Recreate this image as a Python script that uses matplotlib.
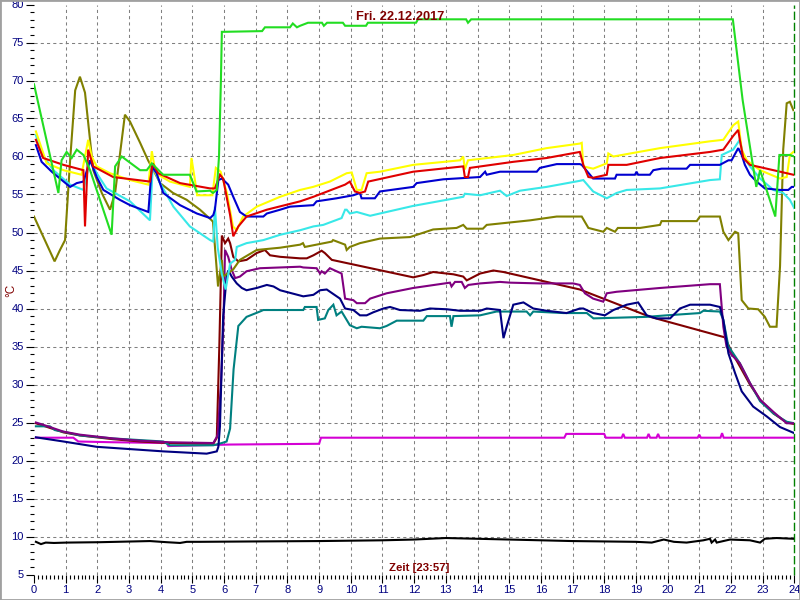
import matplotlib
matplotlib.use('Agg')
import matplotlib.pyplot as plt
from matplotlib.ticker import MultipleLocator
from matplotlib.patches import Rectangle

# ---------------- data (hours, °C) ----------------
green_t = [0, 0.77, 0.87, 1.03, 1.19, 1.35, 1.56, 1.77, 2.45, 2.56, 2.77, 2.93, 3.35, 3.56, 3.72, 3.98, 4.08, 4.92,
           5.13, 5.56, 5.65, 5.77, 5.84, 5.9, 5.93, 7.2, 7.29, 8.08, 8.17, 8.3, 8.4, 8.65, 9.09, 9.15, 9.25, 9.75,
           9.82, 10.48, 10.54, 12.06, 12.12, 13.64, 13.7, 13.8, 22.06, 22.37, 22.8, 22.92, 23.4, 23.53, 23.86, 24.0]
green_v = [69.5, 55.2, 59.5, 60.6, 59.8, 60.9, 60.2, 58.2, 49.7, 58.7, 60.0, 59.5, 58.2, 58.2, 59.1, 58.0, 57.6, 57.6,
           55.4, 55.5, 55.2, 55.6, 60.0, 70.0, 76.4, 76.5, 77.0, 77.0, 77.5, 77.0, 77.2, 77.6, 77.6, 77.2, 77.6, 77.6,
           77.2, 77.2, 77.6, 77.6, 78.05, 78.05, 77.6, 78.05, 78.05, 67.4, 56.0, 58.2, 52.1, 60.2, 60.2, 60.0]

olive_t = [0, 0.65, 0.82, 0.98, 1.14, 1.3, 1.45, 1.61, 1.87, 2.14, 2.4, 2.56, 2.87, 3.03, 3.35, 3.6, 3.82, 3.98, 4.39,
           4.82, 5.24, 5.61, 5.65, 5.81, 5.93, 5.97, 6.28, 6.5, 7.03, 7.77, 8.4, 8.49, 8.55, 9.4, 9.44, 9.82, 9.87,
           9.97, 10.29, 10.92, 11.87, 12.6, 13.34, 13.55, 13.66, 14.17, 14.29, 15.66, 16.5, 17.29, 17.5, 17.97,
           18.08, 18.34, 18.43, 19.13, 19.76, 19.81, 20.92, 21.02, 21.65, 21.76, 21.92, 22.13, 22.23, 22.34, 22.55,
           22.86, 23.07, 23.23, 23.44, 23.55, 23.65, 23.76, 23.86, 23.97]
olive_v = [52.1, 46.2, 47.7, 49.0, 59.5, 68.7, 70.5, 68.4, 58.2, 55.2, 53.0, 55.2, 65.5, 64.6, 61.8, 59.5, 57.8, 56.5,
           55.2, 54.3, 53.0, 51.6, 51.4, 42.9, 46.4, 44.2, 45.1, 46.4, 47.7, 48.0, 48.4, 48.6, 48.1, 48.8, 49.0,
           48.4, 47.7, 48.1, 48.6, 49.2, 49.4, 50.4, 50.6, 51.0, 50.5, 50.5, 51.0, 51.6, 52.1, 52.1, 50.6, 50.1,
           50.6, 50.1, 50.6, 50.6, 51.0, 51.5, 51.5, 52.1, 52.1, 50.1, 49.0, 50.1, 49.9, 41.1, 40.0, 39.9, 38.9,
           37.6, 37.6, 45.6, 60.9, 67.0, 67.2, 66.1]

yellow_t = [0.06, 0.4, 0.93, 1.5, 1.71, 1.82, 1.98, 2.4, 3.03, 3.61, 3.72, 3.84, 4.29, 4.92, 4.97, 5.08, 5.15, 5.63,
            5.74, 5.89, 6.09, 6.28, 6.4, 6.6, 7.03, 7.77, 8.4, 8.81, 9.34, 9.87, 10.03, 10.19, 10.34, 10.5, 10.92,
            11.97, 13.45, 13.55, 13.6, 13.7, 15.13, 16.18, 17.23, 17.29, 17.34, 17.65, 18.08, 18.13, 18.29, 19.76,
            21.34, 21.76, 22.07, 22.23, 22.34, 22.5, 22.92, 23.55, 23.76, 23.86, 23.97]
yellow_v = [63.3, 59.1, 58.2, 57.6, 62.2, 60.0, 58.7, 57.8, 56.9, 56.3, 60.7, 57.8, 56.7, 56.0, 59.8, 56.9, 54.9, 54.9,
            58.5, 58.0, 55.2, 50.8, 50.3, 52.1, 53.4, 54.7, 55.6, 56.0, 56.7, 57.8, 57.9, 55.6, 55.6, 57.8, 58.0,
            58.9, 59.5, 60.0, 58.3, 59.5, 60.2, 61.1, 61.7, 61.8, 58.7, 58.4, 59.1, 60.4, 60.0, 61.1,
            62.0, 62.2, 64.1, 64.6, 60.9, 59.5, 58.2, 57.1, 57.3, 60.2, 60.6]

red_t = [0.06, 0.29, 0.93, 1.56, 1.61, 1.71, 1.87, 2.5, 3.66, 3.75, 3.92, 4.61, 5.56, 5.71, 5.87, 5.97, 6.19, 6.29,
         6.45, 6.71, 7.35, 8.4, 8.82, 9.82, 9.97, 10.13, 10.29, 10.45, 10.55, 11.97, 13.55, 13.6, 13.7, 13.76,
         15.13, 16.18, 17.23, 17.34, 17.5, 17.65, 18.08, 18.13, 18.71, 19.76, 21.34, 21.76, 22.07, 22.23, 22.28,
         22.39, 22.6, 23.13, 23.97]
red_v = [62.2, 59.8, 58.9, 58.2, 50.8, 60.9, 58.7, 57.3, 56.7, 59.1, 57.8, 56.5, 55.8, 55.8, 57.6, 57.1, 52.3, 49.5,
         50.8, 52.1, 53.0, 54.1, 54.7, 56.3, 56.7, 55.4, 55.2, 55.4, 56.7, 58.0, 58.7, 57.3, 57.3, 58.5,
         59.3, 59.8, 60.6, 58.9, 57.3, 57.2, 57.6, 58.9, 58.9, 59.8, 60.6, 60.9, 62.7, 63.5, 62.2,
         59.8, 58.9, 58.4, 57.6]

blue_t = [0.06, 0.24, 0.56, 0.82, 1.14, 1.35, 1.56, 1.77, 1.98, 2.19, 2.71, 3.03, 3.61, 3.72, 3.87, 4.08, 4.61, 5.14,
          5.56, 5.66, 5.71, 5.82, 5.93, 6.13, 6.29, 6.5, 6.71, 7.24, 7.35, 7.77, 8.08, 8.82, 8.92, 9.55, 10.08,
          10.29, 10.34, 10.76, 10.92, 11.97, 12.08, 12.92, 14.08, 14.24, 14.29, 14.71, 15.87, 15.97, 16.5, 17.23,
          17.29, 17.65, 18.34, 18.39, 18.97, 19.02, 19.07, 19.44, 19.55, 19.81, 20.6, 20.71, 21.65, 21.92, 22.02,
          22.23, 22.34, 22.44, 22.6, 22.81, 23.07, 23.55, 23.81, 23.92, 24.0]
blue_v = [61.5, 59.3, 58.0, 57.1, 56.0, 56.5, 56.7, 59.5, 57.3, 55.6, 54.3, 53.6, 52.7, 58.7, 57.8, 55.2, 53.6, 52.5,
          51.9, 52.3, 53.0, 56.9, 57.1, 56.3, 54.7, 52.7, 52.1, 52.1, 52.5, 53.0, 53.4, 53.6, 54.1, 54.5, 54.9,
          55.2, 54.5, 54.5, 55.4, 56.0, 56.5, 57.0, 57.3, 58.0, 57.6, 58.0, 58.0, 58.5, 59.0, 59.0,
          58.9, 57.1, 57.1, 57.6, 57.6, 58.0, 57.6, 57.6, 58.2, 58.4, 58.4, 58.9, 58.9, 59.5, 59.5,
          61.1, 60.2, 58.9, 57.6, 56.7, 55.8, 55.6, 55.6, 56.0, 56.0]

cyan_t = [0.06, 0.24, 0.61, 1.14, 1.56, 1.77, 1.98, 2.29, 3.03, 3.66, 3.75, 3.98, 4.4, 4.92, 5.56, 5.66, 5.71, 5.8,
          5.93, 6.05, 6.19, 6.35, 6.4, 6.71, 7.24, 7.77, 8.4, 8.82, 9.13, 9.71, 9.82, 9.87, 9.97, 10.19, 10.61,
          10.92, 11.97, 13.55, 13.6, 14.08, 14.71, 14.92, 15.34, 16.18, 17.23, 17.34, 17.65, 18.08, 18.39, 18.71,
          19.76, 21.34, 21.65, 21.71, 22.07, 22.28, 22.39, 22.6, 22.92, 23.34, 23.65, 23.86, 24.0]
cyan_v = [62.8, 60.4, 58.2, 56.3, 55.6, 59.5, 57.8, 55.8, 54.1, 51.6, 58.7, 56.5, 53.4, 50.8, 49.0, 48.8, 53.4, 48.0,
          44.5, 42.5, 45.9, 46.4, 48.1, 48.6, 49.0, 49.7, 50.3, 50.8, 51.0, 51.9, 53.0, 53.0, 52.5, 52.7, 52.2,
          52.5, 53.5, 54.7, 55.1, 54.9, 55.5, 54.8, 55.5, 56.0, 56.8, 56.9, 55.4, 54.5, 55.2, 55.6,
          55.8, 56.9, 57.0, 60.2, 60.9, 62.2, 60.0, 58.7, 57.1, 55.6, 55.2, 54.3, 53.2]

maroon_t = [0.06, 0.93, 1.45, 2.5, 3.35, 4.29, 5.66, 5.77, 5.85, 5.93, 6.03, 6.13, 6.19, 6.29, 6.45, 6.71, 7.03,
            7.29, 7.45, 7.77, 8.4, 8.61, 8.82, 9.08, 9.18, 9.4, 11.97, 12.29, 12.6, 13.24, 13.55, 13.66, 14.08,
            14.5, 14.82, 17.23, 19.45, 21.81, 22.02, 22.28, 22.6, 22.92, 23.34, 23.76, 24.0]
maroon_v = [24.9, 23.7, 23.3, 22.8, 22.5, 22.3, 22.2, 23.0, 35.0, 49.6, 48.6, 49.2, 48.6, 46.8, 46.2, 46.4, 47.3,
            47.7, 47.0, 46.8, 46.6, 46.6, 47.0, 47.6, 47.3, 46.4, 44.1, 44.4, 44.8, 44.5, 44.2, 43.7, 44.6,
            45.0, 44.8, 42.5, 38.9, 36.2, 34.3, 32.4, 30.0, 28.0, 26.2, 25.0, 24.8]

purple_t = [0.06, 0.29, 0.93, 1.45, 2.5, 3.35, 4.29, 5.66, 5.77, 5.8, 5.9, 5.98, 6.03, 6.13, 6.24, 6.35, 6.5, 6.71,
            7.13, 7.77, 8.4, 8.5, 8.92, 9.03, 9.08, 9.18, 9.34, 9.55, 9.71, 9.82, 10.08, 10.19, 10.45, 10.61, 11.13,
            11.97, 13.13, 13.18, 13.29, 13.5, 13.6, 13.71, 14.08, 14.71, 15.03, 15.97, 17.02, 17.23, 17.39, 17.65,
            17.97, 18.08, 18.39, 19.76, 21.34, 21.65, 21.76, 21.86, 22.02, 22.28, 22.6, 22.92, 23.34, 23.76, 24.0]
purple_v = [25.0, 24.7, 23.8, 23.4, 22.9, 22.6, 22.4, 22.3, 23.1, 23.5, 30.0, 38.0, 47.7, 46.8, 45.1, 44.0, 44.2, 44.9,
            45.3, 45.4, 45.5, 45.4, 45.3, 44.6, 44.9, 44.6, 45.3, 44.9, 44.6, 41.3, 41.1, 40.7, 40.7, 41.3, 42.0,
            42.7, 43.4, 42.9, 43.5, 43.5, 42.7, 43.1, 43.3, 43.5, 43.4, 43.3, 43.3, 43.1, 42.0, 41.3,
            40.9, 42.0, 42.2, 42.7, 43.2, 43.2, 37.6, 35.0, 33.9, 32.8, 30.2, 28.0, 26.4, 24.9, 24.9]

navy_t = [0.06, 0.93, 1.98, 3.03, 4.08, 5.45, 5.77, 5.82, 5.87, 5.97, 6.08, 6.13, 6.19, 6.24, 6.4, 6.56, 6.71, 7.03,
          7.35, 7.56, 7.77, 8.5, 8.82, 9.03, 9.24, 9.66, 9.82, 10.08, 10.29, 10.5, 10.71, 11.03, 11.24, 11.55,
          12.18, 12.5, 13.03, 13.45, 14.08, 14.29, 14.71, 14.82, 14.92, 15.13, 15.45, 15.76, 16.18, 16.81, 17.23,
          17.34, 17.65, 18.02, 18.29, 18.71, 19.07, 19.34, 19.65, 20.08, 20.39, 20.71, 21.34, 21.65, 21.76,
          21.92, 22.13, 22.34, 22.7, 23.13, 23.55, 24.0]
navy_v = [23.05, 22.5, 21.8, 21.5, 21.2, 20.9, 21.2, 21.8, 24.5, 38.9, 44.2, 45.0, 44.6, 44.2, 43.3, 42.7, 42.4, 42.7,
          43.1, 42.9, 42.4, 41.6, 41.8, 42.4, 42.5, 41.3, 40.0, 39.8, 39.1, 39.1, 39.5, 40.0, 40.2, 39.8,
          39.7, 40.0, 39.9, 39.7, 39.7, 40.0, 39.8, 36.1, 37.6, 40.5, 40.8, 40.0, 39.7, 39.4, 40.0,
          40.0, 39.4, 39.1, 39.8, 40.5, 40.8, 39.1, 38.7, 38.7, 40.0, 40.5, 40.5, 40.2, 38.5,
          34.1, 31.5, 29.1, 27.1, 25.8, 24.4, 23.6]

teal_t = [0.06, 0.5, 0.66, 1.03, 1.45, 2.5, 4.08, 4.29, 5.66, 5.93, 6.08, 6.19, 6.3, 6.45, 6.71, 7.13, 7.24, 8.5,
          8.55, 8.92, 8.97, 9.18, 9.29, 9.45, 9.55, 9.71, 9.97, 10.19, 10.34, 10.92, 11.13, 11.45, 12.29, 12.4,
          13.13, 13.18, 13.24, 14.08, 14.6, 15.55, 15.66, 15.76, 16.71, 17.45, 17.66, 19.34, 19.97, 21.02, 21.13,
          21.65, 21.76, 21.92, 22.07, 22.28, 22.6, 22.92, 23.34, 23.76, 24.0]
teal_v = [24.5, 24.5, 24.0, 23.7, 23.3, 22.9, 22.5, 22.0, 22.0, 22.3, 22.5, 24.2, 32.0, 37.7, 38.9, 39.6, 39.8, 39.8,
          40.2, 40.2, 38.5, 38.7, 39.8, 40.5, 39.1, 39.6, 37.8, 37.4, 37.6, 37.4, 37.7, 38.4, 38.4, 39.0,
          39.0, 37.6, 39.0, 39.1, 39.6, 39.6, 39.1, 39.6, 39.4, 39.4, 38.7, 38.9, 39.1, 39.4, 39.7,
          39.6, 38.5, 35.0, 34.1, 32.8, 30.2, 27.8, 26.2, 25.1, 24.9]

magenta_t = [0.06, 1.24, 1.4, 2.5, 4.19, 4.24, 6.19, 9.0, 9.06, 16.74, 16.8, 18.0, 18.05, 18.55, 18.6, 18.65, 19.35,
             19.4, 19.45, 19.65, 19.7, 19.75, 20.95, 21.0, 21.05, 21.67, 21.72, 21.77, 24.0]
magenta_v = [23.0, 23.0, 22.5, 22.4, 22.3, 21.9, 22.1, 22.2, 23.0, 23.0, 23.5, 23.5, 23.0, 23.0, 23.5, 23.0, 23.0,
             23.5, 23.0, 23.0, 23.5, 23.0, 23.0, 23.4, 23.0, 23.0, 23.6, 23.0, 23.0]

black_t = [0.06, 0.22, 0.37, 0.63, 1.03, 2.08, 3.66, 4.19, 4.61, 4.82, 5.24, 7.0, 9.0, 11.0, 12.0, 13.0, 14.0, 15.0,
           16.0, 17.0, 18.0, 19.0, 19.5, 19.88, 20.2, 20.6, 21.13, 21.34, 21.39, 21.5, 21.55, 21.97, 22.6, 22.92,
           23.07, 23.44, 23.97]
black_v = [9.3, 9.0, 9.2, 9.15, 9.2, 9.25, 9.4, 9.25, 9.15, 9.3, 9.3, 9.35, 9.4, 9.5, 9.6, 9.8, 9.7, 9.6,
           9.5, 9.4, 9.35, 9.3, 9.2, 9.6, 9.3, 9.2, 9.5, 9.7, 9.2, 9.6, 9.2, 9.6, 9.5, 9.2,
           9.7, 9.8, 9.7]

title_text = 'Fri. 22.12.2017'
xlabel_text = 'Zeit [23:57]'
ylabel_text = '°C'

# ---------------- figure ----------------
fig = plt.figure(figsize=(8, 6), dpi=100)
fig.patch.set_facecolor('white')
ax = fig.add_axes([34 / 800, 1 - 574.5 / 600, (794.3 - 34) / 800, (574.5 - 4.5) / 600])
ax.set_facecolor('white')
ax.set_xlim(0, 24)
ax.set_ylim(5, 80)
for s in ax.spines.values():
    s.set_visible(False)

ax.set_xticks(range(0, 25))
ax.xaxis.set_minor_locator(MultipleLocator(0.125))
ax.set_yticks(range(5, 81, 5))
ax.yaxis.set_minor_locator(MultipleLocator(1))
ax.tick_params(axis='both', which='major', length=6, width=0.8, color='black',
               labelsize=8, labelcolor='#000080', pad=1.5)
ax.tick_params(axis='both', which='minor', length=3, width=0.8, color='black')
for lab in ax.get_xticklabels() + ax.get_yticklabels():
    lab.set_family('Liberation Sans')

grid_kw = dict(color='#808080', lw=0.75, ls=(0, (3, 3)), zorder=0.5)
for xv in range(1, 24):
    ax.axvline(xv, **grid_kw)
for yv in range(10, 80, 5):
    ax.axhline(yv, **grid_kw)
ax.axvline(24, color='#008000', lw=1.0, ls=(0, (6, 2)), zorder=0.6, clip_on=False)

lw = 1.5
series = [
    (black_t, black_v, '#000000'),
    (magenta_t, magenta_v, '#D400D4'),
    (maroon_t, maroon_v, '#800000'),
    (teal_t, teal_v, '#008080'),
    (purple_t, purple_v, '#800080'),
    (navy_t, navy_v, '#000080'),
    (olive_t, olive_v, '#808000'),
    (cyan_t, cyan_v, '#38E8E8'),
    (yellow_t, yellow_v, '#FFFF00'),
    (blue_t, blue_v, '#0000D0'),
    (red_t, red_v, '#E00000'),
    (green_t, green_v, '#22DD22'),
]
for i, (t, v, c) in enumerate(series):
    ax.plot(t, v, color=c, lw=lw, zorder=2 + i * 0.1, solid_joinstyle='miter')

fig.text(400 / 800, 1 - 17 / 600, title_text, ha='center', va='center', color='#800000',
         fontweight='bold', fontsize=9.3, family='Liberation Sans', zorder=10)
fig.text(419 / 800, 1 - 568 / 600, xlabel_text, ha='center', va='center', color='#800000',
         fontweight='bold', fontsize=8.2, family='Liberation Sans', zorder=10)
fig.text(11 / 800, 1 - 290 / 600, ylabel_text, ha='center', va='center', color='#800000',
         fontsize=8.5, family='Liberation Sans', rotation=90)

fig.patches.append(Rectangle((0, 0), 1, 1, transform=fig.transFigure, fill=False,
                             edgecolor='#a0a0a0', lw=2))

fig.savefig('out.png', dpi=100)
